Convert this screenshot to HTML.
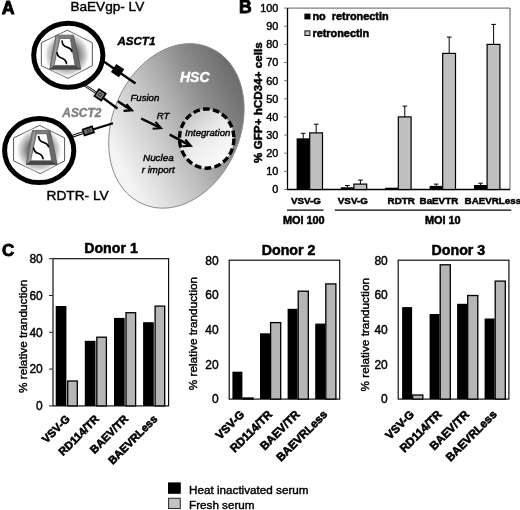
<!DOCTYPE html>
<html lang="en"><head><meta charset="utf-8"><title>Figure</title>
<style>html,body{margin:0;padding:0;background:#fff;}body{width:520px;height:510px;overflow:hidden;}svg{display:block;}text{font-family:"Liberation Sans", Arial, Helvetica, sans-serif;fill:#000;stroke:#000;stroke-width:0.42px;}.b{font-weight:bold;stroke-width:0.5px;}.i{font-style:italic;}.bi{font-weight:bold;font-style:italic;stroke-width:0.4px;}.hv{stroke-width:0.9px;}.xl{stroke-width:0.6px;}</style></head><body>
<svg width="520" height="510" viewBox="0 0 520 510">
<defs>
<linearGradient id="gCell" gradientUnits="userSpaceOnUse" x1="238" y1="85" x2="112" y2="150">
<stop offset="0" stop-color="#6e6e6e"/><stop offset="0.25" stop-color="#8c8c8c"/><stop offset="0.6" stop-color="#c2c2c2"/><stop offset="1" stop-color="#f4f4f4"/>
</linearGradient>
<linearGradient id="gNuc" gradientUnits="userSpaceOnUse" x1="185" y1="115" x2="228" y2="162">
<stop offset="0" stop-color="#c4c4c4"/><stop offset="0.5" stop-color="#ececec"/><stop offset="1" stop-color="#fbfbfb"/>
</linearGradient>
<radialGradient id="gGlow" cx="0.5" cy="0.5" r="0.5">
<stop offset="0" stop-color="#4a4a4a"/><stop offset="0.5" stop-color="#7c7c7c"/><stop offset="0.8" stop-color="#c0c0c0" stop-opacity="0.7"/><stop offset="1" stop-color="#ffffff" stop-opacity="0"/>
</radialGradient>
<linearGradient id="gBevL" gradientUnits="userSpaceOnUse" x1="-15" y1="0" x2="-9.5" y2="1">
<stop offset="0" stop-color="#5a5a5a"/><stop offset="0.5" stop-color="#a4a4a4"/><stop offset="1" stop-color="#6a6a6a"/>
</linearGradient>
</defs>
<rect x="0" y="0" width="520" height="510" fill="#fff"/>
<g id="panelA">
<text class="b hv" x="1.8" y="13.5" font-size="17.8">A</text>
<text x="70.4" y="10.9" font-size="13.6">BaEVgp- LV</text>
<text x="46.6" y="200.1" font-size="13.7">RDTR- LV</text>
<path d="M209.75,47.72 A85.00,63.40 -66.9 1 0 143.05,204.08 A85.00,63.40 -66.9 1 0 209.75,47.72 Z" fill="url(#gCell)" stroke="#8c8c8c" stroke-width="1"/>
<ellipse cx="206.7" cy="138.6" rx="27.2" ry="29.6" fill="url(#gNuc)" stroke="#000" stroke-width="3.4" stroke-dasharray="6.7 3.3"/>
<g stroke="#000" fill="none">
<line x1="103" y1="61" x2="135.5" y2="83.5" stroke-width="2.3"/>
<line x1="82" y1="83.5" x2="98" y2="94" stroke-width="2.6"/>
<line x1="82" y1="83.5" x2="98" y2="94" stroke-width="0.9" stroke="#fff"/>
<line x1="99" y1="95" x2="117.5" y2="108.5" stroke-width="2.3"/>
<line x1="69.2" y1="137.3" x2="86" y2="131.6" stroke-width="2.8"/>
<line x1="69.2" y1="137.3" x2="86" y2="131.6" stroke-width="0.9" stroke="#fff"/>
<line x1="88" y1="131" x2="113" y2="123.3" stroke-width="2.1"/>
</g>
<rect x="-4.8" y="-4.8" width="9.6" height="9.6" transform="translate(117.6 70.6) rotate(34)" fill="#000"/>
<rect x="-4.1" y="-4.1" width="8.2" height="8.2" transform="translate(100.1 94.8) rotate(34)" fill="#808080" stroke="#000" stroke-width="1.7"/>
<rect x="-1.4" y="-1.4" width="2.8" height="2.8" transform="translate(100.1 94.7) rotate(34)" fill="none" stroke="#222" stroke-width="0.8"/>
<rect x="-4.9" y="-3.1" width="9.8" height="6.2" transform="translate(88.3 130.9) rotate(-18)" fill="#777" stroke="#000" stroke-width="1.7"/>
<rect x="-1.4" y="-1.4" width="2.8" height="2.8" transform="translate(88.6 130.7) rotate(-18)" fill="none" stroke="#222" stroke-width="0.8"/>
<g transform="translate(68.3 55.2)">
<ellipse cx="0" cy="0" rx="34.6" ry="32.0" fill="#fff" stroke="#000" stroke-width="5"/>
</g>
<g transform="translate(66.85 54.2)">
<polygon points="0.5,-24 25.5,-11.5 25.5,11.5 1.2,24.2 -25.5,11.5 -25.5,-11.5" fill="#fff" stroke="#444" stroke-width="0.9"/>
  <ellipse cx="0" cy="0.5" rx="24" ry="23.5" fill="url(#gGlow)"/>
</g>
<g transform="translate(66.85 54.2)">
<polygon points="-10.9,-18.95 6.6,-18.95 13.9,15 -17.1,15" fill="#6a6a6a" stroke="#505050" stroke-width="0.8" stroke-linejoin="round"/>
  <polygon points="-10.9,-18.95 -6.9,-15.7 -12.8,11.25 -17.1,15" fill="url(#gBevL)"/>
  <polygon points="-10.9,-18.95 6.6,-18.95 3.35,-15.7 -6.9,-15.7" fill="#7c7c7c"/>
  <polygon points="-12.8,11.25 8.2,11.25 13.9,15 -17.1,15" fill="#484848"/>
  <polygon points="-6.9,-15.7 3.35,-15.7 8.2,11.25 -12.8,11.25" fill="#fff" stroke="#444" stroke-width="0.6"/>
  <path d="M-4.75,-13 C-4.6,-10.5 -3,-8 0.1,-7.1 C3,-6.2 4.6,-5 4.97,-2.8" fill="none" stroke="#000" stroke-width="1.7" stroke-linecap="round"/>
  <path d="M-9.8,-1.4 C-9.6,1 -8,3 -4.75,4 C-2,5 -0.8,6.5 -0.4,9.1" fill="none" stroke="#000" stroke-width="1.7" stroke-linecap="round"/>
</g>
<g transform="translate(39.2 150.6)">
<ellipse cx="0" cy="0" rx="34.6" ry="32.0" fill="#fff" stroke="#000" stroke-width="5"/>
</g>
<g transform="translate(39.1 149.4)">
<polygon points="0.5,-24 25.5,-11.5 25.5,11.5 1.2,24.2 -25.5,11.5 -25.5,-11.5" fill="#fff" stroke="#444" stroke-width="0.9"/>
  <ellipse cx="0" cy="0.5" rx="24" ry="23.5" fill="url(#gGlow)"/>
</g>
<g transform="translate(43.4 149.5)">
<polygon points="-10.9,-18.95 6.6,-18.95 13.9,15 -17.1,15" fill="#6a6a6a" stroke="#505050" stroke-width="0.8" stroke-linejoin="round"/>
  <polygon points="-10.9,-18.95 -6.9,-15.7 -12.8,11.25 -17.1,15" fill="url(#gBevL)"/>
  <polygon points="-10.9,-18.95 6.6,-18.95 3.35,-15.7 -6.9,-15.7" fill="#7c7c7c"/>
  <polygon points="-12.8,11.25 8.2,11.25 13.9,15 -17.1,15" fill="#484848"/>
  <polygon points="-6.9,-15.7 3.35,-15.7 8.2,11.25 -12.8,11.25" fill="#fff" stroke="#444" stroke-width="0.6"/>
  <path d="M-4.75,-13 C-4.6,-10.5 -3,-8 0.1,-7.1 C3,-6.2 4.6,-5 4.97,-2.8" fill="none" stroke="#000" stroke-width="1.7" stroke-linecap="round"/>
  <path d="M-9.8,-1.4 C-9.6,1 -8,3 -4.75,4 C-2,5 -0.8,6.5 -0.4,9.1" fill="none" stroke="#000" stroke-width="1.7" stroke-linecap="round"/>
</g>
<path d="M117.8,101.2 L131.0,109.9" fill="none" stroke="#000" stroke-width="2.5"/>
<path d="M126.5,104.1 L132.0,110.4 L123.6,110.9" fill="none" stroke="#000" stroke-width="2.1" stroke-linejoin="miter" stroke-miterlimit="10"/>
<path d="M141.1,118.5 L160.0,127.7" fill="none" stroke="#000" stroke-width="2.5"/>
<path d="M155.5,121.9 L161.0,128.2 L152.6,128.7" fill="none" stroke="#000" stroke-width="2.1" stroke-linejoin="miter" stroke-miterlimit="10"/>
<path d="M169.7,134.6 L189.8,145.3" fill="none" stroke="#000" stroke-width="2.5"/>
<path d="M185.3,139.5 L190.8,145.8 L182.4,146.3" fill="none" stroke="#000" stroke-width="2.1" stroke-linejoin="miter" stroke-miterlimit="10"/>
<text class="bi" x="117.4" y="45" font-size="11.6">ASCT1</text>
<text class="bi" x="62.3" y="116.6" font-size="11.9" style="fill:#808080;stroke:#808080">ASCT2</text>
<text class="bi" x="180" y="81.7" font-size="14" style="fill:#fff;stroke:#fff">HSC</text>
<text class="i" x="130.5" y="101.2" font-size="9.6">Fusion</text>
<text class="i" x="156.7" y="118.5" font-size="9.6">RT</text>
<text class="i" x="185" y="136" font-size="9.6">Integration</text>
<text class="i" x="143" y="160.7" font-size="9.9">Nuclea</text>
<text class="i" x="141.8" y="172.7" font-size="9.7">r import</text>
</g>
<g id="panelB">
<text class="b hv" x="239" y="12.6" font-size="17.6">B</text>
<path d="M287.5,8.1 H510.0 V189.5" fill="none" stroke="#333" stroke-width="0.8"/>
<path d="M287.5,8.1 V189.5 H510.0" fill="none" stroke="#000" stroke-width="1.3"/>
<line x1="284.1" y1="189.5" x2="287.5" y2="189.5" stroke="#555" stroke-width="0.8"/>
<text class="tk" x="278.3" y="193.4" font-size="10.9" text-anchor="end">0</text>
<line x1="284.1" y1="171.4" x2="287.5" y2="171.4" stroke="#555" stroke-width="0.8"/>
<text class="tk" x="278.3" y="175.3" font-size="10.9" text-anchor="end">10</text>
<line x1="284.1" y1="153.2" x2="287.5" y2="153.2" stroke="#555" stroke-width="0.8"/>
<text class="tk" x="278.3" y="157.1" font-size="10.9" text-anchor="end">20</text>
<line x1="284.1" y1="135.1" x2="287.5" y2="135.1" stroke="#555" stroke-width="0.8"/>
<text class="tk" x="278.3" y="139.0" font-size="10.9" text-anchor="end">30</text>
<line x1="284.1" y1="116.9" x2="287.5" y2="116.9" stroke="#555" stroke-width="0.8"/>
<text class="tk" x="278.3" y="120.8" font-size="10.9" text-anchor="end">40</text>
<line x1="284.1" y1="98.8" x2="287.5" y2="98.8" stroke="#555" stroke-width="0.8"/>
<text class="tk" x="278.3" y="102.7" font-size="10.9" text-anchor="end">50</text>
<line x1="284.1" y1="80.7" x2="287.5" y2="80.7" stroke="#555" stroke-width="0.8"/>
<text class="tk" x="278.3" y="84.6" font-size="10.9" text-anchor="end">60</text>
<line x1="284.1" y1="62.5" x2="287.5" y2="62.5" stroke="#555" stroke-width="0.8"/>
<text class="tk" x="278.3" y="66.4" font-size="10.9" text-anchor="end">70</text>
<line x1="284.1" y1="44.4" x2="287.5" y2="44.4" stroke="#555" stroke-width="0.8"/>
<text class="tk" x="278.3" y="48.3" font-size="10.9" text-anchor="end">80</text>
<line x1="284.1" y1="26.2" x2="287.5" y2="26.2" stroke="#555" stroke-width="0.8"/>
<text class="tk" x="278.3" y="30.1" font-size="10.9" text-anchor="end">90</text>
<line x1="284.1" y1="8.1" x2="287.5" y2="8.1" stroke="#555" stroke-width="0.8"/>
<text class="tk" x="278.3" y="12.0" font-size="10.9" text-anchor="end">100</text>
<text class="b" font-size="11.7" text-anchor="middle" transform="translate(261.6 102.6) rotate(-90)">% GFP+ hCD34+ cells</text>
<rect x="304.4" y="13.6" width="6.1" height="5.8" fill="#000"/>
<text class="b" x="312.4" y="19.9" font-size="10.9" xml:space="preserve">no  retronectin</text>
<rect x="304.9" y="30.9" width="5" height="4.6" fill="#c4c4c4" stroke="#111" stroke-width="1"/>
<text class="b" x="312.4" y="36.8" font-size="10.9">retronectin</text>
<rect x="296.6" y="138.3" width="13.1" height="51.2" fill="#000"/>
<rect x="309.7" y="132.9" width="12.8" height="56.6" fill="#c0c0c0" stroke="#000" stroke-width="1.2"/>
<path d="M303.2,138.3 V133.3 M300.9,133.3 H305.5" fill="none" stroke="#000" stroke-width="1"/>
<path d="M316.2,132.9 V124.2 M313.9,124.2 H318.6" fill="none" stroke="#000" stroke-width="1"/>
<rect x="340.8" y="187.3" width="13.1" height="2.2" fill="#000"/>
<rect x="353.9" y="184.1" width="12.8" height="5.4" fill="#c0c0c0" stroke="#000" stroke-width="1.2"/>
<path d="M347.4,187.3 V185.5 M345.1,185.5 H349.7" fill="none" stroke="#000" stroke-width="1"/>
<path d="M360.4,184.1 V180.1 M358.1,180.1 H362.8" fill="none" stroke="#000" stroke-width="1"/>
<rect x="385.2" y="187.7" width="13.1" height="1.8" fill="#000"/>
<rect x="398.3" y="116.9" width="12.8" height="72.6" fill="#c0c0c0" stroke="#000" stroke-width="1.2"/>
<path d="M404.8,116.9 V106.1 M402.5,106.1 H407.1" fill="none" stroke="#000" stroke-width="1"/>
<rect x="429.6" y="185.9" width="13.1" height="3.6" fill="#000"/>
<rect x="442.7" y="53.4" width="12.8" height="136.1" fill="#c0c0c0" stroke="#000" stroke-width="1.2"/>
<path d="M436.2,185.9 V184.1 M433.9,184.1 H438.5" fill="none" stroke="#000" stroke-width="1"/>
<path d="M449.2,53.4 V37.1 M446.9,37.1 H451.6" fill="none" stroke="#000" stroke-width="1"/>
<rect x="474.0" y="185.0" width="13.1" height="4.5" fill="#000"/>
<rect x="487.1" y="44.4" width="12.8" height="145.1" fill="#c0c0c0" stroke="#000" stroke-width="1.2"/>
<path d="M480.6,185.0 V183.2 M478.2,183.2 H482.9" fill="none" stroke="#000" stroke-width="1"/>
<path d="M493.6,44.4 V24.4 M491.3,24.4 H495.9" fill="none" stroke="#000" stroke-width="1"/>
<text class="b" x="306.0" y="204.3" font-size="9.8" text-anchor="middle">VSV-G</text>
<text class="b" x="352.8" y="204.3" font-size="9.8" text-anchor="middle">VSV-G</text>
<text class="b" x="401.2" y="204.3" font-size="9.8" text-anchor="middle">RDTR</text>
<text class="b" x="438.9" y="204.3" font-size="9.8" text-anchor="middle">BaEVTR</text>
<text class="b" x="492.9" y="204.3" font-size="9.8" text-anchor="middle">BAEVRLess</text>
<line x1="287" y1="210.1" x2="323.5" y2="210.1" stroke="#000" stroke-width="1.1"/>
<line x1="334.8" y1="210.1" x2="511.3" y2="210.1" stroke="#000" stroke-width="1.1"/>
<text class="b" x="303.8" y="224.1" font-size="10.9" text-anchor="middle">MOI 100</text>
<text class="b" x="442.8" y="224.1" font-size="10.9" text-anchor="middle">MOI 10</text>
</g>
<g id="panelC">
<text class="b hv" x="1.9" y="256.1" font-size="17">C</text>
<text class="b" x="111.0" y="253.4" font-size="14.2" text-anchor="middle">Donor 1</text>
<rect x="53.0" y="258.7" width="115.6" height="147.2" fill="#fff" stroke="#111" stroke-width="1.2"/>
<line x1="49.0" y1="405.9" x2="53.0" y2="405.9" stroke="#222" stroke-width="1"/>
<text x="42.8" y="410.2" font-size="12.0" text-anchor="end">0</text>
<line x1="49.0" y1="369.1" x2="53.0" y2="369.1" stroke="#222" stroke-width="1"/>
<text x="42.8" y="373.4" font-size="12.0" text-anchor="end">20</text>
<line x1="49.0" y1="332.3" x2="53.0" y2="332.3" stroke="#222" stroke-width="1"/>
<text x="42.8" y="336.6" font-size="12.0" text-anchor="end">40</text>
<line x1="49.0" y1="295.5" x2="53.0" y2="295.5" stroke="#222" stroke-width="1"/>
<text x="42.8" y="299.8" font-size="12.0" text-anchor="end">60</text>
<line x1="49.0" y1="258.7" x2="53.0" y2="258.7" stroke="#222" stroke-width="1"/>
<text x="42.8" y="263.0" font-size="12.0" text-anchor="end">80</text>
<text font-size="11.8" text-anchor="middle" transform="translate(26.5 336.3) rotate(-90)">% relative tranduction</text>
<rect x="55.7" y="306.0" width="10.7" height="99.9" fill="#000"/>
<rect x="67.7" y="381.0" width="9.6" height="24.9" fill="#b6b6b6" stroke="#000" stroke-width="1.3"/>
<text class="b xl" font-size="11.1" text-anchor="end" transform="translate(70.6 419.7) rotate(-45)">VSV-G</text>
<rect x="84.8" y="340.8" width="10.7" height="65.1" fill="#000"/>
<rect x="96.8" y="337.2" width="9.6" height="68.7" fill="#b6b6b6" stroke="#000" stroke-width="1.3"/>
<text class="b xl" font-size="11.1" text-anchor="end" transform="translate(99.7 419.7) rotate(-45)">RD114/TR</text>
<rect x="114.0" y="317.9" width="10.7" height="88.0" fill="#000"/>
<rect x="126.0" y="312.7" width="9.6" height="93.2" fill="#b6b6b6" stroke="#000" stroke-width="1.3"/>
<text class="b xl" font-size="11.1" text-anchor="end" transform="translate(128.9 419.7) rotate(-45)">BAEV/TR</text>
<rect x="143.1" y="322.2" width="10.7" height="83.7" fill="#000"/>
<rect x="155.1" y="306.1" width="9.6" height="99.8" fill="#b6b6b6" stroke="#000" stroke-width="1.3"/>
<text class="b xl" font-size="11.1" text-anchor="end" transform="translate(158.0 419.7) rotate(-45)">BAEVRLess</text>
<text class="b" x="288.6" y="255.2" font-size="14.2" text-anchor="middle">Donor 2</text>
<rect x="229.2" y="260.2" width="110.5" height="138.9" fill="#fff" stroke="#111" stroke-width="1.2"/>
<text x="218.6" y="403.4" font-size="12.0" text-anchor="end">0</text>
<text x="218.6" y="368.7" font-size="12.0" text-anchor="end">20</text>
<text x="218.6" y="334.0" font-size="12.0" text-anchor="end">40</text>
<text x="218.6" y="299.2" font-size="12.0" text-anchor="end">60</text>
<text x="218.6" y="264.5" font-size="12.0" text-anchor="end">80</text>
<text font-size="11.8" text-anchor="middle" transform="translate(197.4 333.6) rotate(-90)">% relative tranduction</text>
<rect x="232.4" y="371.7" width="10.0" height="27.4" fill="#000"/>
<rect x="243.0" y="398.0" width="10.1" height="1.1" fill="#b6b6b6" stroke="#000" stroke-width="1.3"/>
<text class="b xl" font-size="11.5" text-anchor="end" transform="translate(245.2 415.1) rotate(-45)">VSV-G</text>
<rect x="260.0" y="333.3" width="10.0" height="65.8" fill="#000"/>
<rect x="270.6" y="322.6" width="10.1" height="76.5" fill="#b6b6b6" stroke="#000" stroke-width="1.3"/>
<text class="b xl" font-size="11.5" text-anchor="end" transform="translate(272.8 415.1) rotate(-45)">RD114/TR</text>
<rect x="287.6" y="308.8" width="10.0" height="90.3" fill="#000"/>
<rect x="298.2" y="291.2" width="10.1" height="107.9" fill="#b6b6b6" stroke="#000" stroke-width="1.3"/>
<text class="b xl" font-size="11.5" text-anchor="end" transform="translate(300.4 415.1) rotate(-45)">BAEV/TR</text>
<rect x="315.2" y="323.6" width="10.0" height="75.5" fill="#000"/>
<rect x="325.8" y="283.9" width="10.1" height="115.2" fill="#b6b6b6" stroke="#000" stroke-width="1.3"/>
<text class="b xl" font-size="11.5" text-anchor="end" transform="translate(328.0 415.1) rotate(-45)">BAEVRLess</text>
<text class="b" x="458.4" y="255.2" font-size="14.2" text-anchor="middle">Donor 3</text>
<rect x="398.2" y="260.2" width="110.7" height="138.9" fill="#fff" stroke="#111" stroke-width="1.2"/>
<text x="387.8" y="403.4" font-size="12.0" text-anchor="end">0</text>
<text x="387.8" y="368.7" font-size="12.0" text-anchor="end">20</text>
<text x="387.8" y="334.0" font-size="12.0" text-anchor="end">40</text>
<text x="387.8" y="299.2" font-size="12.0" text-anchor="end">60</text>
<text x="387.8" y="264.5" font-size="12.0" text-anchor="end">80</text>
<text font-size="11.8" text-anchor="middle" transform="translate(369.4 334.7) rotate(-90)">% relative tranduction</text>
<rect x="402.1" y="307.1" width="10.0" height="92.0" fill="#000"/>
<rect x="412.7" y="395.0" width="10.1" height="4.1" fill="#b6b6b6" stroke="#000" stroke-width="1.3"/>
<text class="b xl" font-size="11.5" text-anchor="end" transform="translate(414.9 415.1) rotate(-45)">VSV-G</text>
<rect x="429.6" y="314.0" width="10.0" height="85.1" fill="#000"/>
<rect x="440.2" y="264.8" width="10.1" height="134.3" fill="#b6b6b6" stroke="#000" stroke-width="1.3"/>
<text class="b xl" font-size="11.5" text-anchor="end" transform="translate(442.4 415.1) rotate(-45)">RD114/TR</text>
<rect x="457.1" y="303.8" width="10.0" height="95.3" fill="#000"/>
<rect x="467.7" y="295.5" width="10.1" height="103.6" fill="#b6b6b6" stroke="#000" stroke-width="1.3"/>
<text class="b xl" font-size="11.5" text-anchor="end" transform="translate(469.9 415.1) rotate(-45)">BAEV/TR</text>
<rect x="484.6" y="318.5" width="10.0" height="80.6" fill="#000"/>
<rect x="495.2" y="281.1" width="10.1" height="118.0" fill="#b6b6b6" stroke="#000" stroke-width="1.3"/>
<text class="b xl" font-size="11.5" text-anchor="end" transform="translate(497.4 415.1) rotate(-45)">BAEVRLess</text>
<rect x="168" y="482.4" width="12.8" height="11.4" fill="#000"/>
<rect x="168.6" y="498.3" width="11.7" height="10.2" fill="#c4c4c4" stroke="#333" stroke-width="1.1"/>
<text x="189" y="494.3" font-size="11.7">Heat inactivated serum</text>
<text x="189" y="508.8" font-size="11.7">Fresh serum</text>
</g>
</svg></body></html>
